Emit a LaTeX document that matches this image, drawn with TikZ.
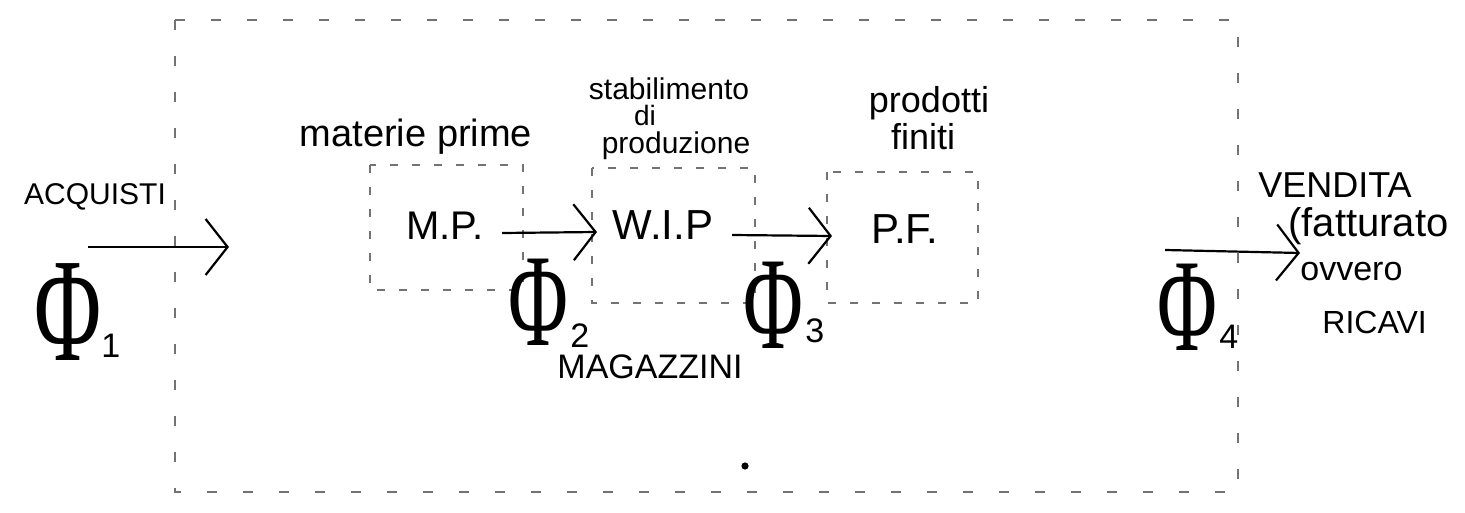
\documentclass[tikz,border=0pt]{standalone}
\usepackage[no-math]{fontspec}
\setmainfont{Liberation Sans}
\newfontfamily\phifont{Liberation Serif}
\usetikzlibrary{arrows.meta}
\begin{document}
\begin{tikzpicture}[x=0.5pt,y=-0.5pt,
  lbl/.style={inner sep=0pt, anchor=base, text=black},
  fs/.style={font=\fontsize{#1}{#1}\selectfont},
  outerbox/.style={draw=black!55, line width=0.6pt, dash pattern=on 5pt off 13pt},
  storebox/.style={draw=black!55, line width=0.6pt, dash pattern=on 4pt off 7pt},
  flow/.style={line width=1.1pt, -{Straight Barb[length=11pt,width=28pt,line width=1.1pt]}},
  phi/.style={inner sep=0pt, anchor=base},
  idx/.style={inner sep=0pt, anchor=base west, font=\fontsize{17}{17}\selectfont}]
\useasboundingbox (0,0) rectangle (1465,513);

% outer boundary and stores
\draw[outerbox] (175,20) rectangle (1238,492);
\draw[storebox] (370,165) rectangle (523,290);
\draw[storebox] (592,168) rectangle (755,303);
\draw[storebox] (827,172) rectangle (978,303);

% labels
\node[lbl, fs=15] (acq) at (95,205) {ACQUISTI};
\node[lbl, fs=19] (mpl) at (416,147) {materie prime};
\node[lbl, fs=15] (st1) at (669,100) {stabilimento};
\node[lbl, fs=14] (st2) at (645,126) {di};
\node[lbl, fs=15] (st3) at (676,154) {produzione};
\node[lbl, fs=18] (pf1) at (929,113) {prodotti};
\node[lbl, fs=18] (pf2) at (923,150) {finiti};
\node[lbl, fs=20] (mp) at (445,240) {M.P.};
\node[lbl, fs=21] (wip) at (663,240) {W.I.P};
\node[lbl, fs=21] (pf) at (905,243) {P.F.};
\node[lbl, fs=17] (mag) at (650,378) {MAGAZZINI};
\node[lbl, fs=18] (vend) at (1335,198) {VENDITA};
\node[lbl, fs=20, anchor=base west] (fatt) at (1288,236) {(fatturato};
\node[lbl, fs=17, anchor=base west] (ovv) at (1300,280) {ovvero};
\node[lbl, fs=16, anchor=base west] (ric) at (1322,333) {RICAVI};

% flows
\node[phi, font=\phifont\fontsize{74}{74}\selectfont] (phi1) at (68,360) {\scalebox{0.62}[1]{Φ}};
\node[idx] (phi1n) at (101,357) {1};
\node[phi, font=\phifont\fontsize{66}{66}\selectfont] (phi2) at (538,345) {\scalebox{0.62}[1]{Φ}};
\node[idx] (phi2n) at (570,347) {2};
\node[phi, font=\phifont\fontsize{66}{66}\selectfont] (phi3) at (773,348) {\scalebox{0.62}[1]{Φ}};
\node[idx] (phi3n) at (805,342) {3};
\node[phi, font=\phifont\fontsize{66}{66}\selectfont] (phi4) at (1187,350) {\scalebox{0.62}[1]{Φ}};
\node[idx] (phi4n) at (1219,348) {4};

% arrows
\coordinate (a1s) at (88,247);
\coordinate (a1e) at (229,247);
\coordinate (a2s) at (502,233);
\coordinate (a2e) at (597,232);
\coordinate (a3s) at (732,235);
\coordinate (a3e) at (832,236);
\coordinate (a4s) at (1165,250);
\coordinate (a4e) at (1300,253);
\draw[flow] (a1s) -- (a1e);
\draw[flow] (a2s) -- (a2e);
\draw[flow] (a3s) -- (a3e);
\draw[flow] (a4s) -- (a4e);

% stray mark
\fill (745,466) circle (1.8pt);
\end{tikzpicture}
\end{document}
